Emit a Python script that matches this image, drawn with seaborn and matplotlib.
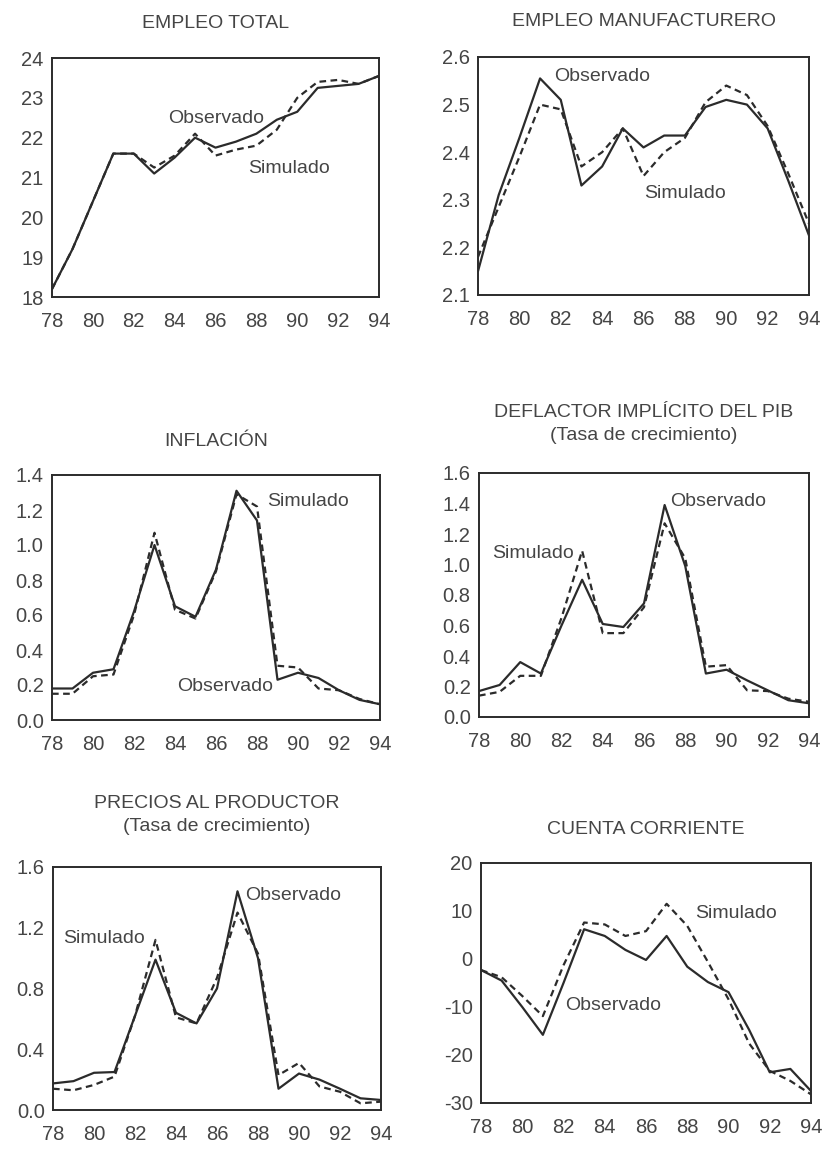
import numpy as np
import pandas as pd
import matplotlib
matplotlib.use("Agg")
import matplotlib.pyplot as plt
import seaborn as sns

years = list(range(78, 95))

# EMPLEO TOTAL
et_obs = [18.2, 19.2, 20.4, 21.6, 21.6, 21.1, 21.5, 22.0, 21.75, 21.9, 22.1, 22.45, 22.65, 23.25, 23.3, 23.35, 23.55]
et_sim = [18.2, 19.2, 20.4, 21.6, 21.6, 21.25, 21.55, 22.1, 21.55, 21.7, 21.8, 22.2, 23.0, 23.4, 23.45, 23.35, 23.55]

# EMPLEO MANUFACTURERO
em_obs = [2.15, 2.31, 2.43, 2.555, 2.51, 2.33, 2.37, 2.45, 2.41, 2.435, 2.435, 2.495, 2.51, 2.50, 2.45, 2.34, 2.225]
em_sim = [2.18, 2.285, 2.39, 2.50, 2.49, 2.37, 2.40, 2.45, 2.35, 2.40, 2.43, 2.505, 2.54, 2.52, 2.455, 2.355, 2.25]

# INFLACION
in_obs = [0.18, 0.18, 0.27, 0.29, 0.62, 1.00, 0.65, 0.59, 0.86, 1.31, 1.14, 0.23, 0.27, 0.24, 0.17, 0.115, 0.09]
in_sim = [0.15, 0.15, 0.25, 0.26, 0.60, 1.07, 0.63, 0.58, 0.85, 1.29, 1.22, 0.31, 0.30, 0.18, 0.17, 0.12, 0.09]

# DEFLACTOR IMPLICITO DEL PIB
de_obs = [0.17, 0.21, 0.36, 0.285, 0.60, 0.90, 0.61, 0.59, 0.745, 1.39, 0.99, 0.285, 0.31, 0.24, 0.175, 0.11, 0.09]
de_sim = [0.14, 0.165, 0.27, 0.27, 0.65, 1.09, 0.55, 0.55, 0.72, 1.27, 1.04, 0.33, 0.34, 0.175, 0.17, 0.12, 0.10]

# PRECIOS AL PRODUCTOR
pp_obs = [0.175, 0.19, 0.245, 0.25, 0.62, 0.99, 0.64, 0.57, 0.80, 1.44, 1.00, 0.14, 0.24, 0.20, 0.14, 0.077, 0.066]
pp_sim = [0.14, 0.13, 0.165, 0.22, 0.62, 1.12, 0.61, 0.57, 0.87, 1.30, 1.03, 0.23, 0.31, 0.155, 0.12, 0.044, 0.055]

# CUENTA CORRIENTE
cc_obs = [-2.3, -4.5, -10.0, -15.8, -5.0, 6.2, 4.8, 1.9, -0.2, 4.8, -1.6, -4.8, -6.9, -14.75, -23.6, -22.9, -27.5]
cc_sim = [-2.3, -3.8, -7.7, -11.9, -1.3, 7.6, 7.2, 4.8, 5.8, 11.5, 6.9, -0.6, -8.4, -17.6, -23.3, -25.4, -28.2]

titles = ["EMPLEO TOTAL", "EMPLEO MANUFACTURERO", "INFLACIÓN",
          "DEFLACTOR IMPLÍCITO DEL PIB\n(Tasa de crecimiento)",
          "PRECIOS AL PRODUCTOR\n(Tasa de crecimiento)", "CUENTA CORRIENTE"]
yticks = [
    [18, 19, 20, 21, 22, 23, 24],
    [2.1, 2.2, 2.3, 2.4, 2.5, 2.6],
    [0.0, 0.2, 0.4, 0.6, 0.8, 1.0, 1.2, 1.4],
    [0.0, 0.2, 0.4, 0.6, 0.8, 1.0, 1.2, 1.4, 1.6],
    [0.0, 0.4, 0.8, 1.2, 1.6],
    [-30, -20, -10, 0, 10, 20],
]
ytick_fmt = ["{:.0f}", "{:.1f}", "{:.1f}", "{:.1f}", "{:.1f}", "{:.0f}"]
series = [(et_obs, et_sim), (em_obs, em_sim), (in_obs, in_sim),
          (de_obs, de_sim), (pp_obs, pp_sim), (cc_obs, cc_sim)]
# label positions (data coords): (obs_x, obs_y, sim_x, sim_y)
label_pos = [
    (86.05, 22.49, 89.6, 21.23),
    (84.0, 2.558, 88.0, 2.313),
    (86.45, 0.19, 90.5, 1.25),
    (89.6, 1.41, 80.6, 1.07),
    (89.7, 1.41, 80.5, 1.13),
    (84.4, -9.6, 90.35, 9.4),
]
# axes boxes in pixels: x0, x1, y0(top), y1(bottom)
boxes = [
    (52, 379, 58, 297),
    (478, 809, 57, 295),
    (52, 380, 475, 720),
    (479, 809, 473, 717),
    (53, 381, 867, 1110),
    (481, 811, 863, 1103),
]
title_y = [23, 22, 442, 424, 815, 830]

sns.set_style("white")
plt.rcParams['font.family'] = ['Liberation Sans', 'DejaVu Sans']

W, H = 822, 1149
fig = plt.figure(figsize=(W / 100, H / 100), dpi=100)
fig.patch.set_facecolor("white")
txt_col = "#454545"
line_col = "#2b2b2b"

for i in range(6):
    x0, x1, y0, y1 = boxes[i]
    ax = fig.add_axes([x0 / W, 1 - y1 / H, (x1 - x0) / W, (y1 - y0) / H])
    obs, sim = series[i]
    df = pd.DataFrame({"year": years + years,
                       "value": list(obs) + list(sim),
                       "serie": ["Observado"] * len(years) + ["Simulado"] * len(years)})
    sns.lineplot(data=df, x="year", y="value", style="serie", hue="serie",
                 palette={"Observado": line_col, "Simulado": line_col},
                 dashes={"Observado": "", "Simulado": (3, 2)},
                 linewidth=1.6, legend=False, ax=ax)
    ax.set_xlim(78, 94)
    ax.set_ylim(yticks[i][0], yticks[i][-1])
    ax.set_xticks(list(range(78, 95, 2)))
    ax.set_xticklabels([str(v) for v in range(78, 95, 2)])
    ax.set_yticks(yticks[i])
    ax.set_yticklabels([ytick_fmt[i].format(v) for v in yticks[i]])
    ax.tick_params(axis="both", length=0, labelsize=14.5, labelcolor=txt_col)
    ax.tick_params(axis="y", pad=6)
    ax.tick_params(axis="x", pad=11)
    ax.set_xlabel("")
    ax.set_ylabel("")
    for s in ax.spines.values():
        s.set_visible(True)
        s.set_color(line_col)
        s.set_linewidth(1.4)
    ox, oy, sx, sy = label_pos[i]
    ax.text(ox, oy, "Observado", ha="center", va="center", fontsize=14, color=txt_col)
    ax.text(sx, sy, "Simulado", ha="center", va="center", fontsize=14, color=txt_col)
    cx = (x0 + x1) / 2 / W
    fig.text(cx, 1 - title_y[i] / H, titles[i], ha="center", va="center",
             fontsize=14, color=txt_col, linespacing=1.45)

fig.savefig("out.png", dpi=100, facecolor="white")
